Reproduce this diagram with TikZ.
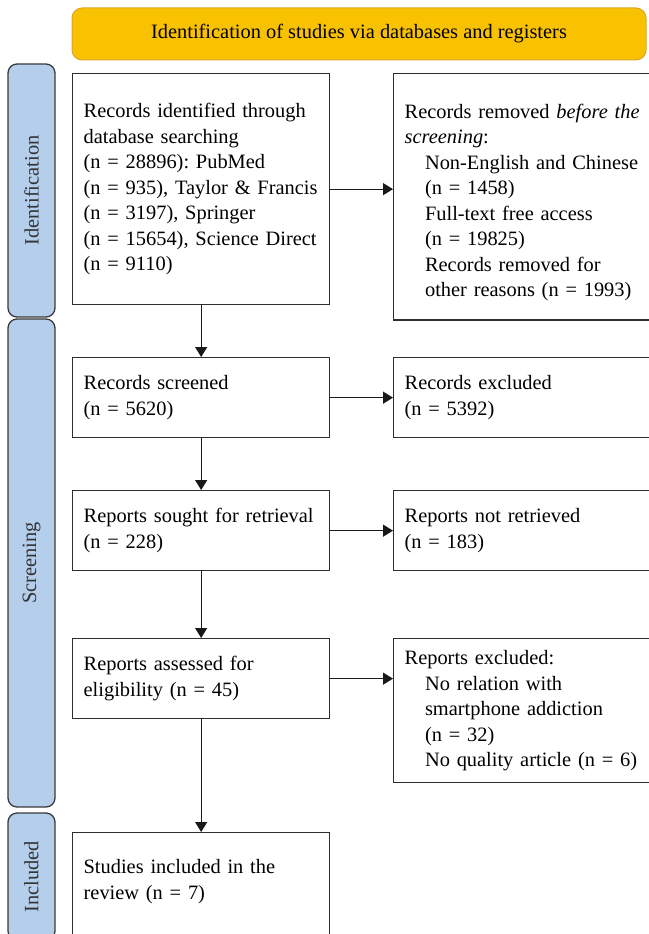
\documentclass[tikz,border=0pt]{standalone}
\usepackage{fontspec}
\setmainfont{Liberation Serif}
\usetikzlibrary{arrows.meta}

\definecolor{headgold}{HTML}{F9C200}
\definecolor{headedge}{HTML}{D9A62E}
\definecolor{bandblue}{HTML}{B4CEEB}
\definecolor{bandedge}{HTML}{3A3A3A}
\definecolor{boxedge}{HTML}{2E2E2E}

\newcommand{\prismafont}{\fontsize{20.4}{25.5}\selectfont\frenchspacing\hyphenpenalty=10000}
\newcommand{\ind}{\hspace*{1em}}

\begin{document}
\begin{tikzpicture}[x=1pt,y=1pt,font=\prismafont,
  box/.style={shape=rectangle,draw=boxedge,line width=1.3pt,align=left,text width=235pt,inner xsep=11pt,inner ysep=0pt,anchor=north west},
  widebox/.style={box,text width=252pt},
  band/.style={shape=rectangle,draw=bandedge,fill=bandblue,line width=1.3pt,rounded corners=9pt,rotate=90,minimum height=47pt,inner sep=0pt,text=black!80},
  flow/.style={-{Triangle[length=10pt,width=12pt]},line width=1.3pt,draw=black!90}]

	\useasboundingbox (0,0) rectangle (648,-934);

	% header and phase bands
	\node[shape=rectangle,draw=headedge,fill=headgold,line width=1pt,rounded corners=10pt,minimum width=574pt,minimum height=52pt] (head) at (359,-34) {Identification of studies via databases and registers};

	\node[band,minimum width=253pt] (idband) at (31.5,-190.5) {Identification};
	\node[band,minimum width=488pt] (scband) at (31.5,-563) {Screening};
	\node[band,minimum width=127pt] (inband) at (31.5,-876.5) {Included};

	% left column
	\node[box,minimum height=231pt] (ident) at (72,-73) {Records identified through\\ database searching\\ (n = 28896): PubMed\\ (n = 935), Taylor \& Francis\\ (n = 3197), Springer\\ (n = 15654), Science Direct\\ (n = 9110)};
	\node[box,minimum height=80pt] (screened) at (72,-357) {Records screened\\ (n = 5620)};
	\node[box,minimum height=80pt] (sought) at (72,-490) {Reports sought for retrieval\\ (n = 228)};
	\node[box,minimum height=80pt] (assessed) at (72,-638) {Reports assessed for\\ eligibility (n = 45)};
	\node[box,inner ysep=27pt,text depth=70pt] (included) at (72,-832) {Studies included in the\\ review (n = 7)};

	% right column
	\node[widebox,inner ysep=30pt,text depth=172pt] (removed) at (393,-73) {Records removed \textit{before the}\\ \textit{screening}:\\ \ind Non-English and Chinese\\ \ind (n = 1458)\\ \ind Full-text free access\\ \ind (n = 19825)\\ \ind Records removed for\\ \ind other reasons (n = 1993)};
	\node[widebox,minimum height=80pt] (excluded) at (393,-357) {Records excluded\\ (n = 5392)};
	\node[widebox,minimum height=80pt] (notret) at (393,-490) {Reports not retrieved\\ (n = 183)};
	\node[widebox,minimum height=144pt] (repexcl) at (393,-638) {Reports excluded:\\ \ind No relation with\\ \ind smartphone addiction\\ \ind (n = 32)\\ \ind No quality article (n = 6)};

	\draw[flow] (ident.south) -- (screened.north);
	\draw[flow] (screened.south) -- (sought.north);
	\draw[flow] (sought.south) -- (assessed.north);
	\draw[flow] (assessed.south) -- (included.north);

	\draw[flow] (ident.east) -- (ident.east -| removed.west);
	\draw[flow] (screened.east) -- (excluded.west);
	\draw[flow] (sought.east) -- (notret.west);
	\draw[flow] (assessed.east) -- (assessed.east -| repexcl.west);
\end{tikzpicture}
\end{document}
